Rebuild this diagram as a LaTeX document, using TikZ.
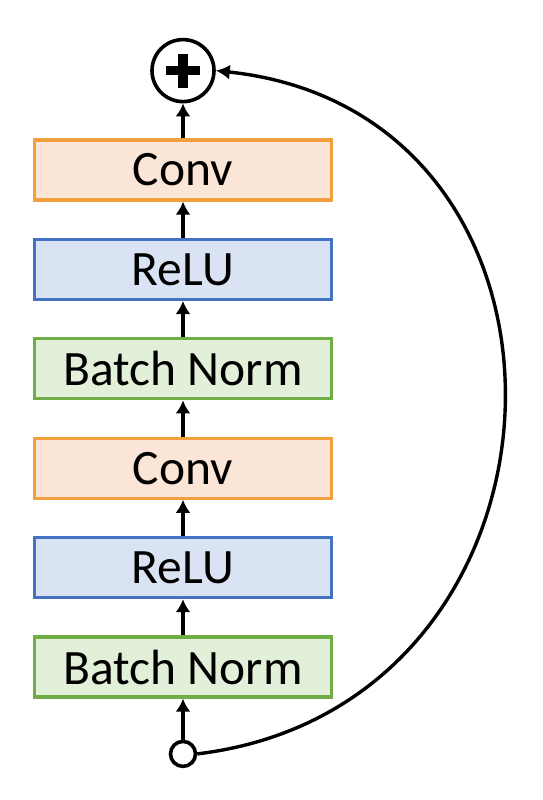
\documentclass[tikz,border=0pt]{standalone}
\usepackage{fontspec}
\setmainfont{Carlito}
\usepackage{xcolor}
\usetikzlibrary{positioning,arrows.meta}
\definecolor{convfill}{HTML}{FBE5D6}
\definecolor{convline}{HTML}{F2A03D}
\definecolor{relufill}{HTML}{DAE3F3}
\definecolor{reluline}{HTML}{4472C4}
\definecolor{bnfill}{HTML}{E2F0D9}
\definecolor{bnline}{HTML}{70AD47}

\tikzset{
  layer/.style={draw,line width=3.2pt,minimum width=297pt,minimum height=60pt,
    inner sep=0pt,font=\fontsize{49.5}{58}\selectfont},
  convbox/.style={layer,draw=convline,fill=convfill},
  relubox/.style={layer,draw=reluline,fill=relufill},
  bnbox/.style={layer,draw=bnline,fill=bnfill},
  flow/.style={line width=4pt,-{Latex[length=13pt,width=15pt]}}
}

\begin{document}
\begin{tikzpicture}[x=1pt,y=1pt,node distance=36.2pt]
  \useasboundingbox (0,0) rectangle (542,-800);
  \node[convbox] (convB) at (183,-170) {Conv};
  \node[relubox,below=of convB] (reluB) {ReLU};
  \node[bnbox,below=of reluB] (bnB) {Batch Norm};
  \node[convbox,below=of bnB] (convA) {Conv};
  \node[relubox,below=of convA] (reluA) {ReLU};
  \node[bnbox,below=of reluA] (bnA) {Batch Norm};
  % sum and input
  \node[circle,draw,line width=3.6pt,fill=white,minimum size=62pt,inner sep=0pt,
    above=35pt of convB,
    path picture={
      \draw[line width=9.5pt] ([xshift=-17pt]path picture bounding box.center)
        -- ([xshift=17pt]path picture bounding box.center);
      \draw[line width=9.5pt] ([yshift=-17pt]path picture bounding box.center)
        -- ([yshift=17pt]path picture bounding box.center);
    }] (sum) {};
  \node[circle,draw,line width=3.6pt,fill=white,minimum size=25pt,inner sep=0pt,
    below=41pt of bnA] (in) {};
  \foreach \a/\b in {in/bnA,bnA/reluA,reluA/convA,convA/bnB,bnB/reluB,reluB/convB,convB/sum}
    \draw[flow] (\a) -- (\b);
  % skip connection
  \draw[line width=3.4pt,-{Latex[length=14pt,width=15pt]}] (in.east)
    .. controls +(396,48) and +(396,-42) .. (sum.east);
\end{tikzpicture}
\end{document}
